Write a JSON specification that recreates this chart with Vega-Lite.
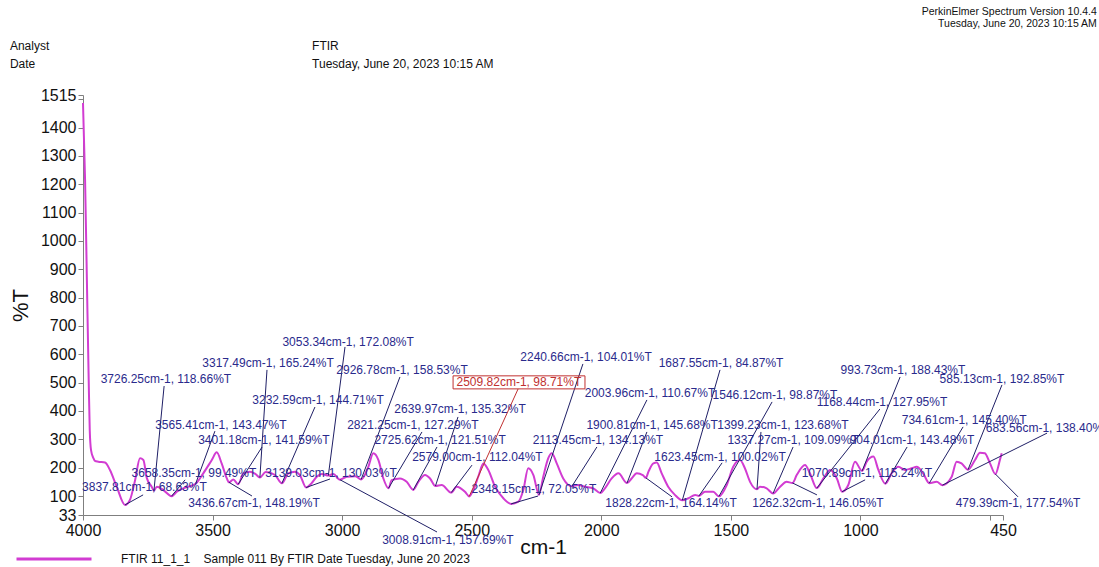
{
  "$schema": "https://vega.github.io/schema/vega-lite/v6.json",
  "width": 920,
  "height": 420,
  "autosize": {"type": "none"},
  "padding": {"left": 83, "top": 95, "right": 96, "bottom": 52},
  "background": "white",
  "config": {
    "view": {"stroke": null},
    "font": "Liberation Sans",
    "axis": {
      "domainColor": "#7f7f7f",
      "tickColor": "#7f7f7f",
      "labelColor": "#111111",
      "titleColor": "#111111",
      "labelFont": "Liberation Sans",
      "titleFont": "Liberation Sans",
      "titleFontWeight": "normal",
      "labelFontSize": 16,
      "tickSize": 5,
      "labelPadding": 2,
      "grid": false,
      "labelFlush": false,
      "labelOverlap": false
    }
  },
  "datasets": {
    "spectrum": [
      {"wn":4000,"t":1487},{"wn":3992,"t":1215},{"wn":3985,"t":862},{"wn":3978,"t":509},{"wn":3974,"t":333},{"wn":3969,"t":262},{"wn":3960,"t":234},{"wn":3954,"t":224},{"wn":3941,"t":221},{"wn":3915,"t":218},{"wn":3896,"t":192},{"wn":3870,"t":133},{"wn":3837.81,"t":68.63},{"wn":3819,"t":86},{"wn":3799,"t":156},{"wn":3780,"t":233},{"wn":3767,"t":227},{"wn":3754,"t":164},{"wn":3735,"t":133},{"wn":3726.25,"t":118.66},{"wn":3715,"t":133},{"wn":3690,"t":121},{"wn":3658.35,"t":99.49},{"wn":3638,"t":115},{"wn":3613,"t":127},{"wn":3565.41,"t":143.47},{"wn":3536,"t":180},{"wn":3503,"t":227},{"wn":3484,"t":254},{"wn":3465,"t":215},{"wn":3445,"t":162},{"wn":3436.67,"t":148.19},{"wn":3420,"t":158},{"wn":3401.18,"t":141.59},{"wn":3381,"t":180},{"wn":3356,"t":186},{"wn":3335,"t":178},{"wn":3317.49,"t":165.24},{"wn":3295,"t":185},{"wn":3259,"t":174},{"wn":3232.59,"t":144.71},{"wn":3208,"t":180},{"wn":3182,"t":186},{"wn":3163,"t":174},{"wn":3139.03,"t":130.03},{"wn":3118,"t":145},{"wn":3098,"t":168},{"wn":3079,"t":178},{"wn":3053.34,"t":172.08},{"wn":3034,"t":178},{"wn":3008.91,"t":157.69},{"wn":2982,"t":168},{"wn":2950,"t":170},{"wn":2926.78,"t":158.53},{"wn":2899,"t":203},{"wn":2880,"t":251},{"wn":2860,"t":227},{"wn":2841,"t":162},{"wn":2821.25,"t":127.29},{"wn":2809,"t":156},{"wn":2777,"t":162},{"wn":2751,"t":150},{"wn":2725.62,"t":121.51},{"wn":2706,"t":150},{"wn":2680,"t":174},{"wn":2661,"t":162},{"wn":2639.97,"t":135.32},{"wn":2616,"t":139},{"wn":2579,"t":112.04},{"wn":2558,"t":133},{"wn":2526,"t":115},{"wn":2509.82,"t":98.71},{"wn":2494,"t":121},{"wn":2475,"t":168},{"wn":2455,"t":215},{"wn":2436,"t":192},{"wn":2410,"t":133},{"wn":2378,"t":92},{"wn":2348.15,"t":72.05},{"wn":2320,"t":80},{"wn":2301,"t":121},{"wn":2282,"t":198},{"wn":2262,"t":174},{"wn":2240.66,"t":104.01},{"wn":2224,"t":168},{"wn":2205,"t":233},{"wn":2191,"t":251},{"wn":2172,"t":215},{"wn":2147,"t":162},{"wn":2113.45,"t":134.13},{"wn":2089,"t":139},{"wn":2063,"t":133},{"wn":2031,"t":127},{"wn":2003.96,"t":110.67},{"wn":1986,"t":127},{"wn":1960,"t":162},{"wn":1934,"t":180},{"wn":1900.81,"t":145.68},{"wn":1883,"t":162},{"wn":1863,"t":180},{"wn":1840,"t":174},{"wn":1828.22,"t":164.14},{"wn":1818,"t":186},{"wn":1799,"t":215},{"wn":1786,"t":218},{"wn":1767,"t":180},{"wn":1742,"t":133},{"wn":1716,"t":104},{"wn":1687.55,"t":84.87},{"wn":1664,"t":92},{"wn":1638,"t":104},{"wn":1623.45,"t":100.02},{"wn":1600,"t":115},{"wn":1568,"t":115},{"wn":1546.12,"t":98.87},{"wn":1516,"t":139},{"wn":1491,"t":203},{"wn":1465,"t":227},{"wn":1446,"t":198},{"wn":1426,"t":150},{"wn":1399.23,"t":123.68},{"wn":1388,"t":133},{"wn":1362,"t":127},{"wn":1337.27,"t":109.09},{"wn":1310,"t":133},{"wn":1285,"t":150},{"wn":1262.32,"t":146.05},{"wn":1246,"t":174},{"wn":1214,"t":209},{"wn":1195,"t":180},{"wn":1168.44,"t":127.95},{"wn":1143,"t":162},{"wn":1117,"t":192},{"wn":1091,"t":162},{"wn":1070.89,"t":115.24},{"wn":1047,"t":139},{"wn":1021,"t":221},{"wn":993.73,"t":188.43},{"wn":976,"t":221},{"wn":950,"t":239},{"wn":931,"t":192},{"wn":904.01,"t":143.48},{"wn":880,"t":180},{"wn":854,"t":203},{"wn":828,"t":192},{"wn":802,"t":198},{"wn":783,"t":203},{"wn":758,"t":180},{"wn":734.61,"t":145.4},{"wn":706,"t":150},{"wn":683.56,"t":138.4},{"wn":648,"t":168},{"wn":629,"t":221},{"wn":610,"t":215},{"wn":585.13,"t":192.85},{"wn":558,"t":227},{"wn":539,"t":253},{"wn":520,"t":251},{"wn":500,"t":215},{"wn":479.39,"t":177.54},{"wn":462,"t":227},{"wn":455,"t":251}
    ],
    "peaks": [
      {"wn":3837.81,"t":68.63,"label":"3837.81cm-1, 68.63%T","cx":3763,"cy":132,"ex":3768,"ey":104},
      {"wn":3726.25,"t":118.66,"label":"3726.25cm-1, 118.66%T","cx":3680,"cy":513,"ex":3687,"ey":488},
      {"wn":3658.35,"t":99.49,"label":"3658.35cm-1, 99.49%T","cx":3572,"cy":181,"ex":3606,"ey":157},
      {"wn":3565.41,"t":143.47,"label":"3565.41cm-1, 143.47%T","cx":3468,"cy":351,"ex":3491,"ey":329},
      {"wn":3436.67,"t":148.19,"label":"3436.67cm-1, 148.19%T","cx":3340,"cy":75,"ex":3348,"ey":100},
      {"wn":3401.18,"t":141.59,"label":"3401.18cm-1, 141.59%T","cx":3302,"cy":298,"ex":3309,"ey":273},
      {"wn":3317.49,"t":165.24,"label":"3317.49cm-1, 165.24%T","cx":3286,"cy":569,"ex":3290,"ey":545},
      {"wn":3232.59,"t":144.71,"label":"3232.59cm-1, 144.71%T","cx":3093,"cy":439,"ex":3105,"ey":414},
      {"wn":3139.03,"t":130.03,"label":"3139.03cm-1, 130.03%T","cx":3043,"cy":181,"ex":3047,"ey":160},
      {"wn":3053.34,"t":172.08,"label":"3053.34cm-1, 172.08%T","cx":2977,"cy":644,"ex":2989,"ey":626},
      {"wn":3008.91,"t":157.69,"label":"3008.91cm-1, 157.69%T","cx":2592,"cy":-55,"ex":2634,"ey":-27},
      {"wn":2926.78,"t":158.53,"label":"2926.78cm-1, 158.53%T","cx":2769,"cy":545,"ex":2777,"ey":520},
      {"wn":2821.25,"t":127.29,"label":"2821.25cm-1, 127.29%T","cx":2727,"cy":351,"ex":2692,"ey":326},
      {"wn":2725.62,"t":121.51,"label":"2725.62cm-1, 121.51%T","cx":2622,"cy":298,"ex":2634,"ey":273},
      {"wn":2639.97,"t":135.32,"label":"2639.97cm-1, 135.32%T","cx":2545,"cy":407,"ex":2553,"ey":379},
      {"wn":2579.00,"t":112.04,"label":"2579.00cm-1, 112.04%T","cx":2478,"cy":238,"ex":2499,"ey":209},
      {"wn":2348.15,"t":72.05,"label":"2348.15cm-1, 72.05%T","cx":2260,"cy":125,"ex":2244,"ey":100},
      {"wn":2240.66,"t":104.01,"label":"2240.66cm-1, 104.01%T","cx":2059,"cy":590,"ex":2071,"ey":566},
      {"wn":2113.45,"t":134.13,"label":"2113.45cm-1, 134.13%T","cx":2013,"cy":298,"ex":2017,"ey":273},
      {"wn":2003.96,"t":110.67,"label":"2003.96cm-1, 110.67%T","cx":1812,"cy":463,"ex":1824,"ey":439},
      {"wn":1900.81,"t":145.68,"label":"1900.81cm-1, 145.68%T","cx":1804,"cy":351,"ex":1824,"ey":326},
      {"wn":1828.22,"t":164.14,"label":"1828.22cm-1, 164.14%T","cx":1731,"cy":75,"ex":1727,"ey":97},
      {"wn":1687.55,"t":84.87,"label":"1687.55cm-1, 84.87%T","cx":1538,"cy":569,"ex":1542,"ey":545},
      {"wn":1623.45,"t":100.02,"label":"1623.45cm-1, 100.02%T","cx":1542,"cy":238,"ex":1534,"ey":217},
      {"wn":1546.12,"t":98.87,"label":"1546.12cm-1, 98.87%T","cx":1330,"cy":456,"ex":1341,"ey":432},
      {"wn":1399.23,"t":123.68,"label":"1399.23cm-1, 123.68%T","cx":1299,"cy":351,"ex":1384,"ey":326},
      {"wn":1337.27,"t":109.09,"label":"1337.27cm-1, 109.09%T","cx":1260,"cy":298,"ex":1260,"ey":273},
      {"wn":1262.32,"t":146.05,"label":"1262.32cm-1, 146.05%T","cx":1164,"cy":75,"ex":1168,"ey":104},
      {"wn":1168.44,"t":127.95,"label":"1168.44cm-1, 127.95%T","cx":917,"cy":432,"ex":925,"ey":407},
      {"wn":1070.89,"t":115.24,"label":"1070.89cm-1, 115.24%T","cx":975,"cy":181,"ex":982,"ey":157},
      {"wn":993.73,"t":188.43,"label":"993.73cm-1, 188.43%T","cx":836,"cy":545,"ex":847,"ey":520},
      {"wn":904.01,"t":143.48,"label":"904.01cm-1, 143.48%T","cx":801,"cy":298,"ex":820,"ey":273},
      {"wn":734.61,"t":145.40,"label":"734.61cm-1, 145.40%T","cx":600,"cy":368,"ex":604,"ey":344},
      {"wn":683.56,"t":138.40,"label":"683.56cm-1, 138.40%T","cx":276,"cy":340,"ex":280,"ey":322},
      {"wn":585.13,"t":192.85,"label":"585.13cm-1, 192.85%T","cx":454,"cy":513,"ex":454,"ey":492},
      {"wn":479.39,"t":177.54,"label":"479.39cm-1, 177.54%T","cx":392,"cy":75,"ex":392,"ey":97}
    ],
    "selected": [
      {"wn":2509.82,"t":98.71,"label":"2509.82cm-1, 98.71%T","cx":2318,"cy":502,"ex":2321,"ey":478,"bx1":2572,"bx2":2063,"by1":524,"by2":478}
    ],
    "header": [
      {"text":"Analyst","hx":4282,"hy":1688},
      {"text":"Date","hx":4282,"hy":1624},
      {"text":"FTIR","hx":3116,"hy":1688},
      {"text":"Tuesday, June 20, 2023 10:15 AM","hx":3116,"hy":1624}
    ],
    "stamp": [
      {"text":"PerkinElmer Spectrum Version 10.4.4","hx":88,"hy":1808},
      {"text":"Tuesday, June 20, 2023 10:15 AM","hx":88,"hy":1765}
    ]
  },
  "layer": [
    {
      "data": {"name": "spectrum"},
      "mark": {"type": "line", "interpolate": "monotone", "strokeWidth": 2},
      "encoding": {
        "x": {
          "field": "wn", "type": "quantitative", "title": "cm-1",
          "scale": {"domain": [450, 4000], "reverse": true, "nice": false, "zero": false},
          "axis": {"titleFontSize": 21, "titlePadding": -2, "labelOverlap": false, "labelFlush": false, "labelBound": false, "values": [4000, 3500, 3000, 2500, 2000, 1500, 1000, 500, 450], "format": "d", "labelExpr": "datum.value == 500 ? '' : datum.label"}
        },
        "y": {
          "field": "t", "type": "quantitative", "title": "%T",
          "scale": {"domain": [33, 1515], "nice": false, "zero": false},
          "axis": {"titleFontSize": 22, "titlePadding": 8, "labelOverlap": false, "labelFlush": false, "labelBound": false, "values": [33, 100, 200, 300, 400, 500, 600, 700, 800, 900, 1000, 1100, 1200, 1300, 1400, 1500, 1515], "format": "d", "labelExpr": "datum.value == 1500 ? '' : datum.label"}
        },
        "color": {
          "datum": "FTIR 11_1_1\u00a0\u00a0\u00a0 Sample 011 By FTIR Date Tuesday, June 20 2023",
          "type": "nominal",
          "scale": {"range": ["#d23cd2"]},
          "legend": {
            "orient": "none", "legendX": -68, "legendY": 425,
            "title": null, "symbolType": "stroke", "symbolSize": 5625,
            "symbolStrokeWidth": 3, "labelFontSize": 12, "labelLimit": 0,
            "labelOffset": 28, "padding": 0, "labelFont": "Liberation Sans",
            "labelColor": "#111111"
          }
        }
      }
    },
    {
      "data": {"name": "peaks"},
      "mark": {"type": "rule", "color": "#1f1f66", "strokeWidth": 1},
      "encoding": {
        "x": {"field": "wn", "type": "quantitative", "title": "cm-1", "axis": {"titleFontSize": 21, "titlePadding": -2, "labelOverlap": false, "labelFlush": false, "labelBound": false, "values": [4000, 3500, 3000, 2500, 2000, 1500, 1000, 500, 450], "format": "d", "labelExpr": "datum.value == 500 ? '' : datum.label"}},
        "y": {"field": "t", "type": "quantitative", "title": "%T", "axis": {"titleFontSize": 22, "titlePadding": 8, "labelOverlap": false, "labelFlush": false, "labelBound": false, "values": [33, 100, 200, 300, 400, 500, 600, 700, 800, 900, 1000, 1100, 1200, 1300, 1400, 1500, 1515], "format": "d", "labelExpr": "datum.value == 1500 ? '' : datum.label"}},
        "x2": {"field": "ex"},
        "y2": {"field": "ey"}
      }
    },
    {
      "data": {"name": "peaks"},
      "mark": {"type": "text", "fontSize": 12, "color": "#2a2a8c", "align": "center", "baseline": "middle", "font": "Liberation Sans"},
      "encoding": {
        "x": {"field": "cx", "type": "quantitative", "title": "cm-1", "axis": {"titleFontSize": 21, "titlePadding": -2, "labelOverlap": false, "labelFlush": false, "labelBound": false, "values": [4000, 3500, 3000, 2500, 2000, 1500, 1000, 500, 450], "format": "d", "labelExpr": "datum.value == 500 ? '' : datum.label"}},
        "y": {"field": "cy", "type": "quantitative", "title": "%T", "axis": {"titleFontSize": 22, "titlePadding": 8, "labelOverlap": false, "labelFlush": false, "labelBound": false, "values": [33, 100, 200, 300, 400, 500, 600, 700, 800, 900, 1000, 1100, 1200, 1300, 1400, 1500, 1515], "format": "d", "labelExpr": "datum.value == 1500 ? '' : datum.label"}},
        "text": {"field": "label"}
      }
    },
    {
      "data": {"name": "selected"},
      "mark": {"type": "rect", "fill": null, "stroke": "#c03030", "strokeWidth": 1},
      "encoding": {
        "x": {"field": "bx1", "type": "quantitative", "title": "cm-1", "axis": {"titleFontSize": 21, "titlePadding": -2, "labelOverlap": false, "labelFlush": false, "labelBound": false, "values": [4000, 3500, 3000, 2500, 2000, 1500, 1000, 500, 450], "format": "d", "labelExpr": "datum.value == 500 ? '' : datum.label"}},
        "x2": {"field": "bx2"},
        "y": {"field": "by1", "type": "quantitative", "title": "%T", "axis": {"titleFontSize": 22, "titlePadding": 8, "labelOverlap": false, "labelFlush": false, "labelBound": false, "values": [33, 100, 200, 300, 400, 500, 600, 700, 800, 900, 1000, 1100, 1200, 1300, 1400, 1500, 1515], "format": "d", "labelExpr": "datum.value == 1500 ? '' : datum.label"}},
        "y2": {"field": "by2"}
      }
    },
    {
      "data": {"name": "selected"},
      "mark": {"type": "rule", "color": "#c03030", "strokeWidth": 1},
      "encoding": {
        "x": {"field": "wn", "type": "quantitative", "title": "cm-1", "axis": {"titleFontSize": 21, "titlePadding": -2, "labelOverlap": false, "labelFlush": false, "labelBound": false, "values": [4000, 3500, 3000, 2500, 2000, 1500, 1000, 500, 450], "format": "d", "labelExpr": "datum.value == 500 ? '' : datum.label"}},
        "y": {"field": "t", "type": "quantitative", "title": "%T", "axis": {"titleFontSize": 22, "titlePadding": 8, "labelOverlap": false, "labelFlush": false, "labelBound": false, "values": [33, 100, 200, 300, 400, 500, 600, 700, 800, 900, 1000, 1100, 1200, 1300, 1400, 1500, 1515], "format": "d", "labelExpr": "datum.value == 1500 ? '' : datum.label"}},
        "x2": {"field": "ex"},
        "y2": {"field": "ey"}
      }
    },
    {
      "data": {"name": "selected"},
      "mark": {"type": "text", "fontSize": 12, "color": "#c03030", "align": "center", "baseline": "middle", "font": "Liberation Sans"},
      "encoding": {
        "x": {"field": "cx", "type": "quantitative", "title": "cm-1", "axis": {"titleFontSize": 21, "titlePadding": -2, "labelOverlap": false, "labelFlush": false, "labelBound": false, "values": [4000, 3500, 3000, 2500, 2000, 1500, 1000, 500, 450], "format": "d", "labelExpr": "datum.value == 500 ? '' : datum.label"}},
        "y": {"field": "cy", "type": "quantitative", "title": "%T", "axis": {"titleFontSize": 22, "titlePadding": 8, "labelOverlap": false, "labelFlush": false, "labelBound": false, "values": [33, 100, 200, 300, 400, 500, 600, 700, 800, 900, 1000, 1100, 1200, 1300, 1400, 1500, 1515], "format": "d", "labelExpr": "datum.value == 1500 ? '' : datum.label"}},
        "text": {"field": "label"}
      }
    },
    {
      "data": {"name": "header"},
      "mark": {"type": "text", "fontSize": 12, "color": "#111111", "align": "left", "baseline": "middle", "font": "Liberation Sans"},
      "encoding": {
        "x": {"field": "hx", "type": "quantitative", "title": "cm-1", "axis": {"titleFontSize": 21, "titlePadding": -2, "labelOverlap": false, "labelFlush": false, "labelBound": false, "values": [4000, 3500, 3000, 2500, 2000, 1500, 1000, 500, 450], "format": "d", "labelExpr": "datum.value == 500 ? '' : datum.label"}},
        "y": {"field": "hy", "type": "quantitative", "title": "%T", "axis": {"titleFontSize": 22, "titlePadding": 8, "labelOverlap": false, "labelFlush": false, "labelBound": false, "values": [33, 100, 200, 300, 400, 500, 600, 700, 800, 900, 1000, 1100, 1200, 1300, 1400, 1500, 1515], "format": "d", "labelExpr": "datum.value == 1500 ? '' : datum.label"}},
        "text": {"field": "text"}
      }
    },
    {
      "data": {"name": "stamp"},
      "mark": {"type": "text", "fontSize": 10.5, "color": "#111111", "align": "right", "baseline": "middle", "font": "Liberation Sans"},
      "encoding": {
        "x": {"field": "hx", "type": "quantitative", "title": "cm-1", "axis": {"titleFontSize": 21, "titlePadding": -2, "labelOverlap": false, "labelFlush": false, "labelBound": false, "values": [4000, 3500, 3000, 2500, 2000, 1500, 1000, 500, 450], "format": "d", "labelExpr": "datum.value == 500 ? '' : datum.label"}},
        "y": {"field": "hy", "type": "quantitative", "title": "%T", "axis": {"titleFontSize": 22, "titlePadding": 8, "labelOverlap": false, "labelFlush": false, "labelBound": false, "values": [33, 100, 200, 300, 400, 500, 600, 700, 800, 900, 1000, 1100, 1200, 1300, 1400, 1500, 1515], "format": "d", "labelExpr": "datum.value == 1500 ? '' : datum.label"}},
        "text": {"field": "text"}
      }
    }
  ]
}
